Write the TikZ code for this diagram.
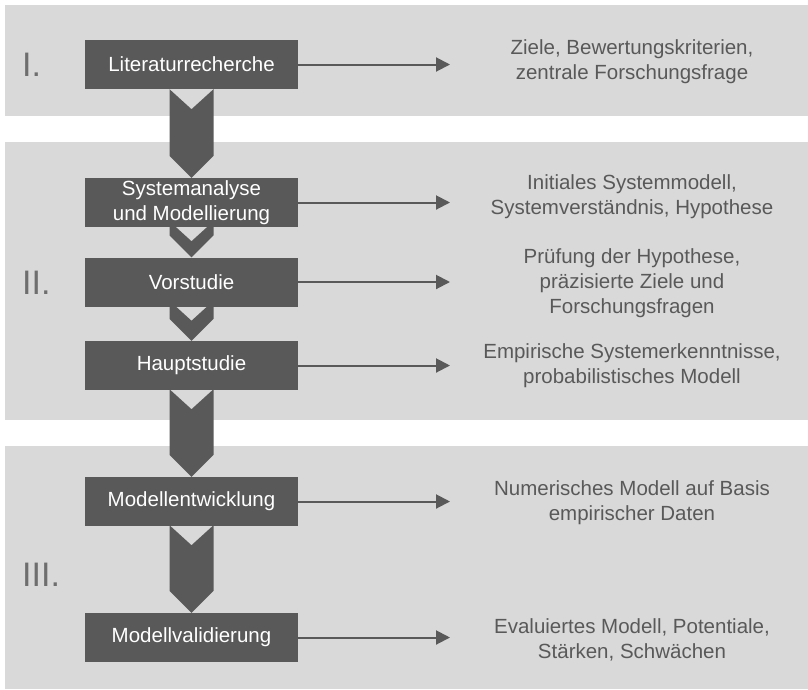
\documentclass[tikz,border=0pt]{standalone}
\usepackage{fontspec}
\setmainfont{Liberation Sans}
\usetikzlibrary{arrows.meta,calc}
\pgfdeclarelayer{bands}
\pgfdeclarelayer{chevs}
\pgfsetlayers{bands,chevs,main}
\definecolor{bandc}{HTML}{D9D9D9}
\definecolor{darkc}{HTML}{595959}
\definecolor{numc}{HTML}{6E6E6E}
\newcommand\mychevron[3]{%
  \begin{pgfonlayer}{chevs}
  \fill[chev] ($(#1.south)+(-22,#3-20)$) -- ($(#1.south)+(0,#3)$) -- ($(#1.south)+(22,#3-20)$)
    -- ($(#2.north)+(22,-22)$) -- (#2.north) -- ($(#2.north)+(-22,-22)$) -- cycle;
  \end{pgfonlayer}}
\begin{document}
\begin{tikzpicture}[x=1pt,y=-1pt,
  stepbox/.style={fill=darkc,text=white,minimum width=213pt,minimum height=49pt,inner sep=0pt,align=center,font=\fontsize{20.5}{25}\selectfont},
  outtext/.style={text=darkc,align=center,inner sep=0pt,font=\fontsize{20.5}{25}\selectfont},
  numeral/.style={text=numc,anchor=west,inner sep=0pt,font=\fontsize{34}{34}\selectfont},
  outarrow/.style={draw=darkc,line width=2pt,-{Triangle[length=14pt,width=14pt]}},
  chev/.style={fill=darkc},
  bandbox/.style={fill=bandc}]
\useasboundingbox (0,0) rectangle (808,689);
\begin{pgfonlayer}{bands}
\fill[bandbox] (5,5) rectangle (808,116);
\fill[bandbox] (5,142) rectangle (808,420);
\fill[bandbox] (5,446) rectangle (808,689);
\end{pgfonlayer}

\node[numeral] (n1) at (22,65) {I.};
\node[numeral] (n2) at (22,283) {II.};
\node[numeral] (n3) at (22,575) {III.};

\node[stepbox] (b1) at (191.5,64.5) {Literaturrecherche};
\node[stepbox] (b2) at (191.5,202.5) {Systemanalyse\\und Modellierung};
\node[stepbox] (b3) at (191.5,282) {Vorstudie};
\node[stepbox] (b4) at (191.5,365.5) {Hauptstudie};
\node[stepbox] (b5) at (191.5,501.5) {Modellentwicklung};
\node[stepbox] (b6) at (191.5,637.5) {Modellvalidierung};

\mychevron{b1}{b2}{20}
\mychevron{b2}{b3}{14}
\mychevron{b3}{b4}{14}
\mychevron{b4}{b5}{19}
\mychevron{b5}{b6}{19}

\coordinate (tipx) at (450,0);
\foreach \b in {b1,b2,b3,b4,b5,b6}
  \draw[outarrow] (\b.east) -- (\b.east -| tipx);

\node[outtext] (o1) at (632,62) {Ziele, Bewertungskriterien,\\zentrale Forschungsfrage};
\node[outtext] (o2) at (632,196.5) {Initiales Systemmodell,\\Systemverständnis, Hypothese};
\node[outtext] (o3) at (632,283) {Prüfung der Hypothese,\\präzisierte Ziele und\\Forschungsfragen};
\node[outtext] (o4) at (632,365.5) {Empirische Systemerkenntnisse,\\probabilistisches Modell};
\node[outtext] (o5) at (632,503) {Numerisches Modell auf Basis\\empirischer Daten};
\node[outtext] (o6) at (632,640) {Evaluiertes Modell, Potentiale,\\Stärken, Schwächen};
\end{tikzpicture}
\end{document}
